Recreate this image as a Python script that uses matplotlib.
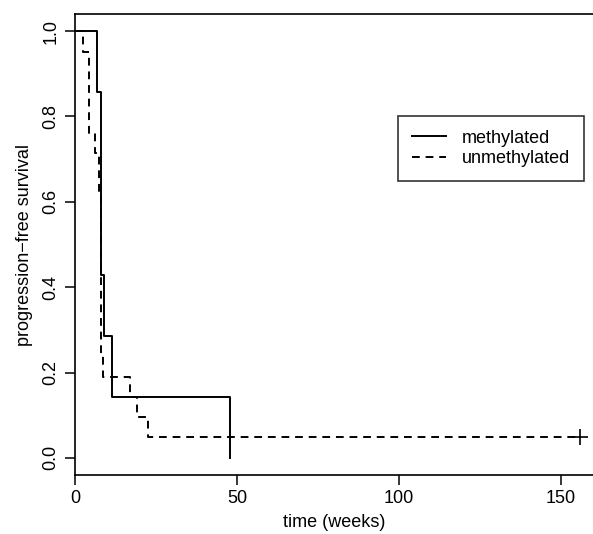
import matplotlib
matplotlib.use("Agg")
import matplotlib.pyplot as plt

# ----------------------------
# Kaplan-Meier step data
# ----------------------------

meth_times = [0, 6.7, 7.9, 9.0, 11.5, 48.0]
meth_surv = [1.0, 0.857, 0.429, 0.286, 0.143, 0.0]

unmeth_times = [0, 2.4, 4.2, 6.1, 7.3, 7.9, 8.6, 17.0, 19.0, 22.6]
unmeth_surv = [1.0, 0.952, 0.762, 0.714, 0.619, 0.238, 0.190, 0.143, 0.095, 0.048]
unmeth_censor = 156.0

series_labels = ["methylated", "unmethylated"]
x_ticks = [0, 50, 100, 150]
y_ticks = [0.0, 0.2, 0.4, 0.6, 0.8, 1.0]

plt.rcParams["font.family"] = ["Liberation Sans", "DejaVu Sans"]
FS = 13

W, H = 593, 534
fig = plt.figure(figsize=(W / 100, H / 100), dpi=100)
ax = fig.add_axes([75 / W, (H - 475) / H, (W - 75) / W, (475 - 14) / H])

ax.plot(meth_times, meth_surv, drawstyle="steps-post", color="black",
        lw=1.4, label=series_labels[0])
ax.plot(unmeth_times + [unmeth_censor], unmeth_surv + [unmeth_surv[-1]],
        drawstyle="steps-post", color="black", lw=1.4, dashes=(4, 3),
        label=series_labels[1])
ax.plot([unmeth_censor], [unmeth_surv[-1]], marker="+", ms=11, mew=1.2,
        color="black", ls="none")

ax.set_xlim(0, 160)
ax.set_ylim(-0.04, 1.04)
ax.spines["right"].set_visible(False)
for s in ["left", "bottom", "top"]:
    ax.spines[s].set_linewidth(1.2)

ax.set_xticks(x_ticks)
ax.set_yticks(y_ticks)
ax.set_yticklabels([f"{v:.1f}" for v in y_ticks], rotation=90, va="center")
ax.tick_params(direction="out", length=7, width=1.1, labelsize=FS, pad=4)

ax.set_xlabel("time (weeks)", fontsize=FS, labelpad=5)
ax.set_ylabel("progression\u2212free survival", fontsize=FS, labelpad=7)

leg = ax.legend(loc="upper left", bbox_to_anchor=(398 / W, 1 - 116 / H),
                bbox_transform=fig.transFigure, fontsize=FS, frameon=True,
                fancybox=False, handlelength=1.9, handletextpad=0.9,
                labelspacing=0.2, borderpad=0.75, borderaxespad=0)
leg.get_frame().set_edgecolor("black")
leg.get_frame().set_linewidth(1.2)

fig.savefig("out.png", dpi=100)
